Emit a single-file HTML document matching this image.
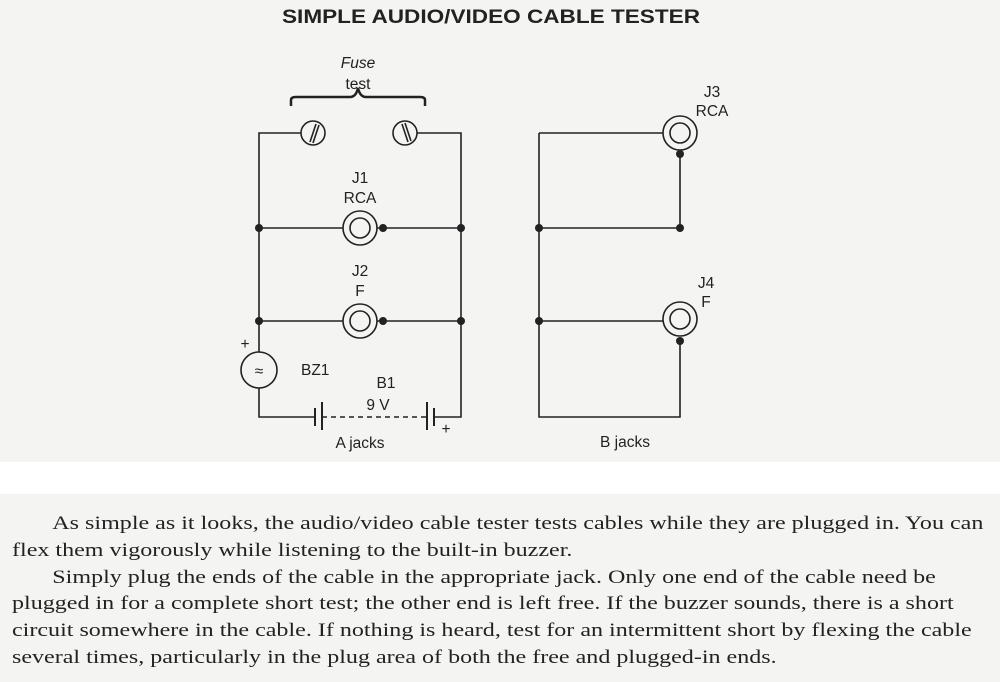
<!DOCTYPE html>
<html><head><style>
body{margin:0;width:1000px;height:682px;background:#f4f4f3;position:relative;overflow:hidden;font-family:"Liberation Sans",sans-serif;}
.band{position:absolute;left:0;top:462px;width:1000px;height:32px;background:#fff;}
.txt{position:absolute;left:12px;top:511px;width:760px;font-family:"Liberation Serif",serif;font-size:18.5px;line-height:26.8px;color:#222;transform:scaleX(1.3);transform-origin:0 0;white-space:nowrap;}
.txt p{margin:0;text-indent:31px;}
</style></head><body>
<div class="band"></div>
<svg width="1000" height="462" style="position:absolute;left:0;top:0" font-family="Liberation Sans, sans-serif" fill="#222">
<text x="491" y="23" text-anchor="middle" font-size="19" font-weight="bold" textLength="418" lengthAdjust="spacingAndGlyphs">SIMPLE AUDIO/VIDEO CABLE TESTER</text>
<g stroke="#222" stroke-width="1.6" fill="none">
<path d="M291,106 V100 Q291,97 296,97 H350 Q356,97 358,88 Q360,97 366,97 H420 Q425,97 425,100 V106" stroke-width="2.5"/>
<path d="M301,133 H259 V352"/>
<path d="M259,388 V417 H315"/>
<path d="M417,133 H461 V417 H434"/>
<path d="M259,228 H343 M377,228 H461"/>
<path d="M259,321 H343 M377,321 H461"/>
<path d="M315,408 V426 M322,402 V430 M427,402 V430 M434,408 V426" stroke-width="2"/>
<path d="M322,417 H427" stroke-dasharray="5,4"/>
<circle cx="313" cy="133" r="12"/><circle cx="405" cy="133" r="12"/>
<path d="M310,142 L316,124 M313,143 L319,125 M402,124 L408,142 M405,123 L411,141"/>
<circle cx="360" cy="228" r="17"/><circle cx="360" cy="228" r="10"/>
<circle cx="360" cy="321" r="17"/><circle cx="360" cy="321" r="10"/>
<circle cx="259" cy="370" r="18"/>
<path d="M539,133 H663 M539,133 V417 H680 V341 M680,154 V228 H539 M539,321 H663"/>
<circle cx="680" cy="133" r="17"/><circle cx="680" cy="133" r="10"/>
<circle cx="680" cy="319" r="17"/><circle cx="680" cy="319" r="10"/>
</g>
<g fill="#222">
<circle cx="259" cy="228" r="4"/><circle cx="461" cy="228" r="4"/><circle cx="383" cy="228" r="4"/>
<circle cx="259" cy="321" r="4"/><circle cx="461" cy="321" r="4"/><circle cx="383" cy="321" r="4"/>
<circle cx="680" cy="154" r="4"/><circle cx="680" cy="228" r="4"/><circle cx="539" cy="228" r="4"/>
<circle cx="680" cy="341" r="4"/><circle cx="539" cy="321" r="4"/>
</g>
<g font-size="15.5" text-anchor="middle">
<text x="358" y="68" font-style="italic">Fuse</text>
<text x="358" y="89">test</text>
<text x="360" y="183">J1</text><text x="360" y="203">RCA</text>
<text x="360" y="276">J2</text><text x="360" y="296">F</text>
<text x="386" y="388">B1</text><text x="378" y="410">9 V</text>
<text x="360" y="448">A jacks</text>
<text x="625" y="447">B jacks</text>
<text x="712" y="97">J3</text><text x="712" y="116">RCA</text>
<text x="706" y="288">J4</text><text x="706" y="307">F</text>
<text x="301" y="375" text-anchor="start">BZ1</text>
<text x="259" y="376">≈</text>
<text x="245" y="349">+</text>
<text x="446" y="434">+</text>
</g>
</svg>
<div class="txt">
<p>As simple as it looks, the audio/video cable tester tests cables while they are plugged in. You can</p>
<p style="text-indent:0">flex them vigorously while listening to the built-in buzzer.</p>
<p>Simply plug the ends of the cable in the appropriate jack. Only one end of the cable need be</p>
<p style="text-indent:0">plugged in for a complete short test; the other end is left free. If the buzzer sounds, there is a short</p>
<p style="text-indent:0">circuit somewhere in the cable. If nothing is heard, test for an intermittent short by flexing the cable</p>
<p style="text-indent:0">several times, particularly in the plug area of both the free and plugged-in ends.</p>
</div>
</body></html>
